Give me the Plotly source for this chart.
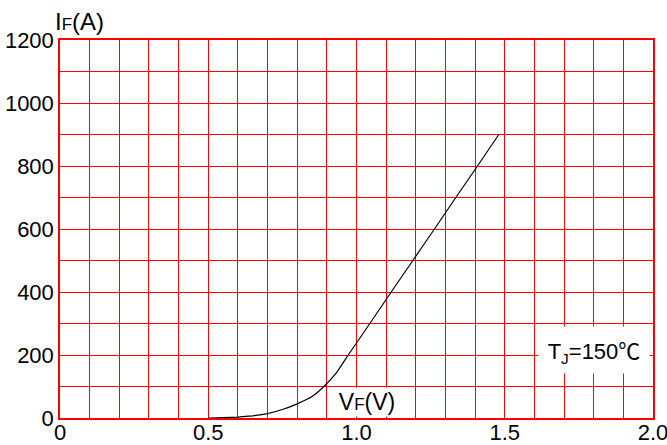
import plotly.graph_objects as go

# Forward characteristic, Tj = 150 C
vf = [0.50, 0.55, 0.60, 0.65, 0.70, 0.75, 0.80, 0.85, 0.89, 0.932, 0.972, 1.00, 1.045, 1.117, 1.19, 1.263, 1.335, 1.408, 1.48]
i_f = [0, 1, 3, 7, 14, 27, 45, 68, 100, 143, 200, 238, 300, 400, 500, 600, 700, 800, 900]

x_ticks = [0, 0.5, 1.0, 1.5, 2.0]
x_labels = ["0", "0.5", "1.0", "1.5", "2.0"]
y_ticks = [0, 200, 400, 600, 800, 1000, 1200]
y_labels = ["0", "200", "400", "600", "800", "1000", "1200"]
x_range = [0, 2.0]
y_range = [0, 1200]

FONT = "Liberation Sans, Arial, sans-serif"
RED = "#ff0000"

fig = go.Figure()
# invisible trace carrying the fine grid axes
fig.add_trace(go.Scatter(x=x_range, y=y_range, xaxis="x2", yaxis="y2", mode="lines",
                         line=dict(width=0, color="rgba(0,0,0,0)"),
                         hoverinfo="skip", showlegend=False))
fig.add_trace(go.Scatter(x=vf, y=i_f, mode="lines",
                         line=dict(color="black", width=1.2, shape="spline", smoothing=0.3),
                         hoverinfo="skip", showlegend=False))

fig.update_layout(
    width=667, height=445,
    margin=dict(l=60, r=14, t=40, b=27, autoexpand=False),
    paper_bgcolor="white", plot_bgcolor="white",
    font=dict(family=FONT, size=22, color="black"),
    showlegend=False,
    xaxis=dict(range=x_range, tickmode="array", tickvals=x_ticks, ticktext=x_labels,
               showgrid=True, gridcolor=RED, gridwidth=1,
               showline=True, linecolor=RED, linewidth=1.5, mirror=True,
               ticks="", zeroline=False, ticklabelstandoff=-6, automargin=False,
               ticklabeloverflow="allow",
               tickfont=dict(family=FONT, size=22, color="black")),
    yaxis=dict(range=y_range, tickmode="array", tickvals=y_ticks, ticktext=y_labels,
               showgrid=True, gridcolor=RED, gridwidth=1,
               showline=True, linecolor=RED, linewidth=1.5, mirror=True,
               ticks="", zeroline=False, ticklabelstandoff=0, automargin=False,
               ticklabeloverflow="allow",
               tickfont=dict(family=FONT, size=22, color="black")),
    xaxis2=dict(range=x_range, overlaying="x", dtick=0.1, tick0=0, showticklabels=False,
                showgrid=True, gridcolor=RED, gridwidth=1, zeroline=False, ticks="",
                showline=False, automargin=False),
    yaxis2=dict(range=y_range, overlaying="y", dtick=100, tick0=0, showticklabels=False,
                showgrid=True, gridcolor=RED, gridwidth=1, zeroline=False, ticks="",
                showline=False, automargin=False),
)

# Axis titles
fig.add_annotation(xref="paper", yref="paper", x=-0.011, y=1.05,
                   xanchor="left", yanchor="middle", showarrow=False,
                   text="I<span style='font-size:17px'>F</span>(A)",
                   font=dict(family=FONT, size=24, color="black"))
fig.add_annotation(xref="x", yref="y", x=1.036, y=50, showarrow=False,
                   text="V<span style='font-size:17px'>F</span>(V)",
                   bgcolor="white", width=76, height=28, borderpad=0,
                   font=dict(family=FONT, size=23, color="black"))
fig.add_annotation(xref="x", yref="y", x=1.8, y=215, showarrow=False,
                   text="T<sub>J</sub>=150<span style='font-family:Noto Sans CJK SC'>℃</span>",
                   bgcolor="white", width=110, height=46, borderpad=0,
                   font=dict(family=FONT, size=22, color="black"))

fig.write_html("out.html", config={"displayModeBar": False},
               post_script="document.body.style.margin='0';")
